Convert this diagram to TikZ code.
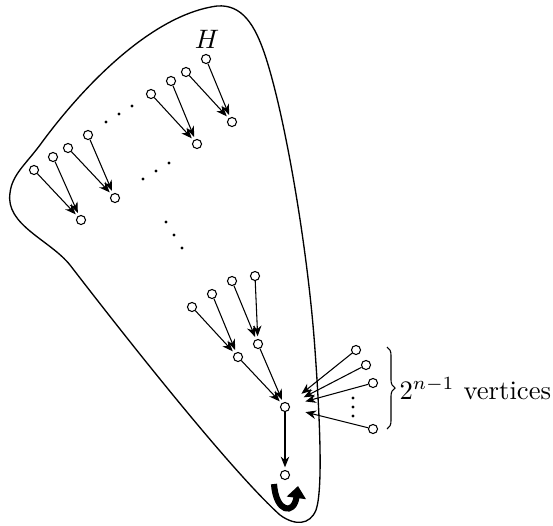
\documentclass[tikz,border=0pt]{standalone}
\usetikzlibrary{arrows.meta,decorations.pathreplacing}
\tikzset{
  vtx/.style={circle, draw, fill=white, inner sep=0pt, minimum size=3.4pt},
  arr/.style={-{Stealth[length=4pt,width=3.2pt]}, shorten >=1pt},
  farr/.style={arr, shorten >=6pt},
}
\begin{document}
\begin{tikzpicture}[x=0.375pt, y=-0.375pt]
  \useasboundingbox (0,0) rectangle (553,525);
  % the region H
  \draw[line width=0.5pt] (217,6) .. controls (242,4) and (255,25) .. (265,55)
    .. controls (285,115) and (308,250) .. (315,350)
    .. controls (320,420) and (323,490) .. (316,510)
    .. controls (310,525) and (295,526) .. (280,515)
    .. controls (230,470) and (120,330) .. (70,265)
    .. controls (50,240) and (5,225) .. (10,193)
    .. controls (12,175) and (25,165) .. (40,145)
    .. controls (80,90) and (150,15) .. (217,6) -- cycle;
  \node at (207,39) {$H$};
  % upper row
  \node[vtx] (l1) at (34,170) {};
  \node[vtx] (l2) at (53,157) {};
  \node[vtx] (l3) at (68,148) {};
  \node[vtx] (l4) at (88,135) {};
  \node[vtx] (la) at (81,220) {};
  \node[vtx] (lb) at (115,198) {};
  \node[vtx] (t1) at (151,94) {};
  \node[vtx] (t2) at (171,81) {};
  \node[vtx] (t3) at (186,72) {};
  \node[vtx] (t4) at (206,59) {};
  \node[vtx] (ta) at (197,144) {};
  \node[vtx] (tb) at (232,122) {};
  \draw[arr] (l1) -- (la);
  \draw[arr] (l2) -- (la);
  \draw[arr] (l3) -- (lb);
  \draw[arr] (l4) -- (lb);
  \draw[arr] (t1) -- (ta);
  \draw[arr] (t2) -- (ta);
  \draw[arr] (t3) -- (tb);
  \draw[arr] (t4) -- (tb);
  % dots
  \foreach \p in {(106,122),(119,114),(132,106),(143,179),(156,171),(169,163),
                  (166,222),(174,235),(182,248),(353,398),(353,407),(353,416)}
    \fill \p circle (0.6pt);
  % lower part
  \node[vtx] (b1) at (192,307) {};
  \node[vtx] (b2) at (212,294) {};
  \node[vtx] (b3) at (232,281) {};
  \node[vtx] (b4) at (255,276) {};
  \node[vtx] (ba) at (238,357) {};
  \node[vtx] (bb) at (258,344) {};
  \node[vtx] (m) at (285,407) {};
  \node[vtx] (s) at (285,475) {};
  \draw[arr] (b1) -- (ba);
  \draw[arr] (b2) -- (ba);
  \draw[arr] (b3) -- (bb);
  \draw[arr] (b4) -- (bb);
  \draw[arr] (ba) -- (m);
  \draw[arr] (bb) -- (m);
  \draw[arr] (m) -- (s);
  \draw[line width=2.3pt, -{Triangle[length=4.5pt,width=7pt]}]
    ([shift={(-11,9)}]s.center) .. controls ([shift={(-9,38)}]s.center)
    and ([shift={(9,40)}]s.center) .. ([shift={(13,11)}]s.center);
  % outside vertices
  \node[vtx] (r1) at (356,350) {};
  \node[vtx] (r2) at (366,365) {};
  \node[vtx] (r3) at (373,383) {};
  \node[vtx] (r4) at (373,429) {};
  \draw[farr] (r1) -- (m);
  \draw[farr] (r2) -- (m);
  \draw[farr] (r3) -- (m);
  \draw[farr] (r4) -- (m);
  \coordinate (bt) at (387,347);
  \coordinate (bo) at (387,429);
  \draw[decorate, decoration={brace, amplitude=3pt}] (bt) -- (bo);
  \node[anchor=base west, inner sep=0pt] (lbl) at (399,399) {$2^{n-1}$\ vertices};
\end{tikzpicture}
\end{document}
